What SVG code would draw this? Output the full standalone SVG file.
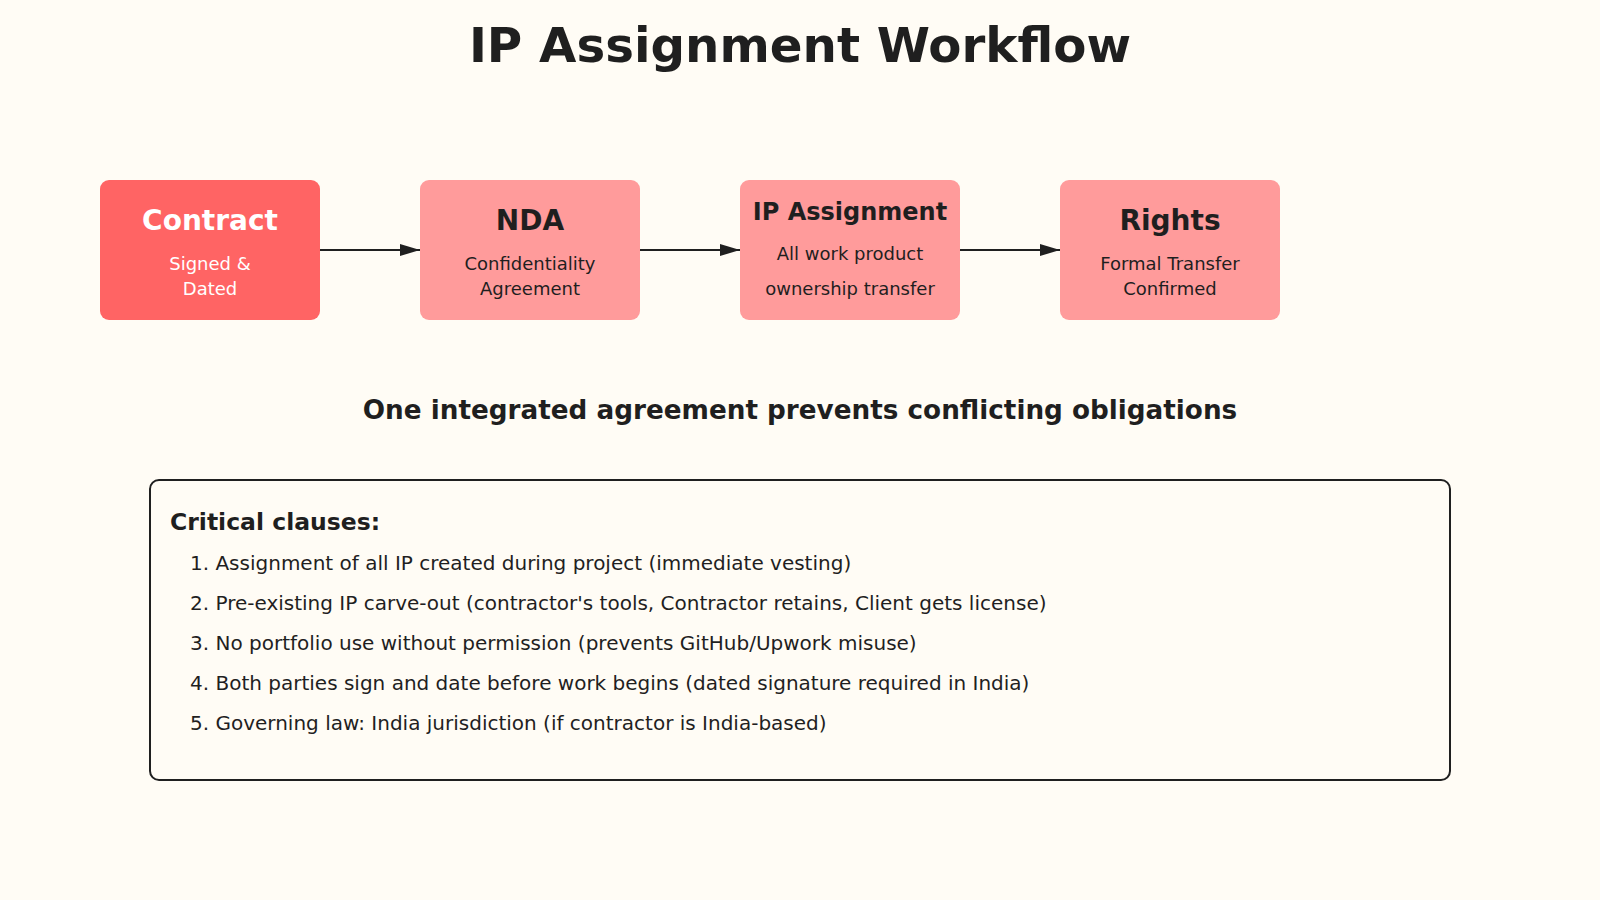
<svg xmlns="http://www.w3.org/2000/svg" width="1600" height="900" viewBox="0 0 1600 900">
<defs>
<style>
text{font-family:"DejaVu Sans","Noto Sans",sans-serif;fill:#1f1f1f}
.t{font-weight:bold;text-anchor:middle}
.s{font-size:18px;text-anchor:middle}
.box{fill:#FF9B9B}
.li{font-size:20px}
.conn{stroke:#1f1f1f;stroke-width:2;fill:none}
</style>
<marker id="ah" viewBox="0 0 20 12" refX="20" refY="6" markerWidth="20" markerHeight="12" markerUnits="userSpaceOnUse" orient="auto">
<path d="M0,0 L20,6 L0,12 Z" fill="#1f1f1f"/>
</marker>
</defs>
<rect width="1600" height="900" fill="#FFFCF5"/>
<text class="t" x="800" y="62" font-size="48.3">IP Assignment Workflow</text>
<g id="contract">
<rect x="100" y="180" width="220" height="140" rx="9" fill="#FF6464"/>
<text class="t" x="210" y="230" font-size="28" style="fill:#fff">Contract</text>
<text class="s" x="210" y="270" style="fill:#fff">Signed &amp;</text>
<text class="s" x="210" y="295" style="fill:#fff">Dated</text>
</g>
<g id="nda">
<rect class="box" x="420" y="180" width="220" height="140" rx="9"/>
<text class="t" x="530" y="230" font-size="28">NDA</text>
<text class="s" x="530" y="270">Confidentiality</text>
<text class="s" x="530" y="295">Agreement</text>
</g>
<g id="ip">
<rect class="box" x="740" y="180" width="220" height="140" rx="9"/>
<text class="t" x="850" y="220" font-size="24">IP Assignment</text>
<text class="s" x="850" y="260">All work product</text>
<text class="s" x="850" y="295">ownership transfer</text>
</g>
<g id="rights">
<rect class="box" x="1060" y="180" width="220" height="140" rx="9"/>
<text class="t" x="1170" y="230" font-size="28">Rights</text>
<text class="s" x="1170" y="270">Formal Transfer</text>
<text class="s" x="1170" y="295">Confirmed</text>
</g>
<g id="connectors">
<line class="conn" x1="320" y1="250" x2="420" y2="250" marker-end="url(#ah)"/>
<line class="conn" x1="640" y1="250" x2="740" y2="250" marker-end="url(#ah)"/>
<line class="conn" x1="960" y1="250" x2="1060" y2="250" marker-end="url(#ah)"/>
</g>
<text class="t" x="800" y="419" font-size="26.25">One integrated agreement prevents conflicting obligations</text>
<g id="clauses">
<rect x="150" y="480" width="1300" height="300" rx="9" fill="none" stroke="#1f1f1f" stroke-width="2"/>
<text x="170" y="530" font-size="23.5" font-weight="bold">Critical clauses:</text>
<text class="li" x="190" y="570">1. Assignment of all IP created during project (immediate vesting)</text>
<text class="li" x="190" y="610">2. Pre-existing IP carve-out (contractor's tools, Contractor retains, Client gets license)</text>
<text class="li" x="190" y="650">3. No portfolio use without permission (prevents GitHub/Upwork misuse)</text>
<text class="li" x="190" y="690">4. Both parties sign and date before work begins (dated signature required in India)</text>
<text class="li" x="190" y="730">5. Governing law: India jurisdiction (if contractor is India-based)</text>
</g>
</svg>
